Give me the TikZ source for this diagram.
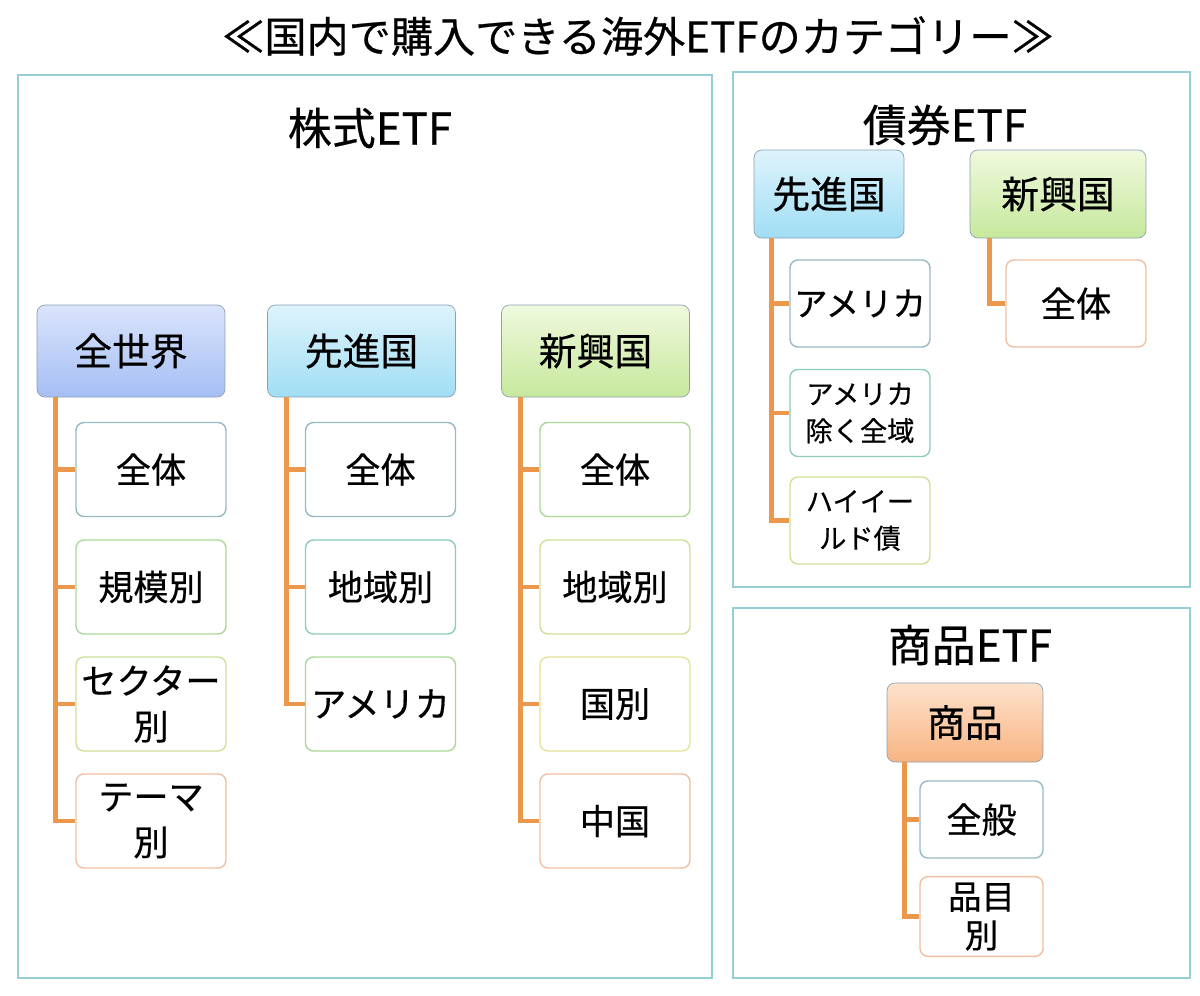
\documentclass[tikz,border=0pt]{standalone}
\usepackage{fontspec}
\setmainfont{Noto Sans CJK JP}[FakeBold=0.5]
\usetikzlibrary{positioning}
\definecolor{frame}{RGB}{150,206,214}
\definecolor{pedge}{RGB}{140,160,180}
\definecolor{spinec}{RGB}{236,152,76}
\definecolor{lblue}{RGB}{150,186,196}
\definecolor{lteal}{RGB}{140,204,184}
\definecolor{lgreen}{RGB}{170,216,150}
\definecolor{lyg}{RGB}{205,224,150}
\definecolor{lyellow}{RGB}{228,226,150}
\definecolor{lorange}{RGB}{240,190,160}

\begin{document}
\begin{tikzpicture}[
  x=0.02cm, y=-0.02cm,
  panel/.style={draw=frame, line width=1.2pt},
  hd/.style={font=\fontsize{25}{28}\selectfont},
  parent/.style={draw=pedge, rounded corners=4.5pt, minimum width=3.76cm, minimum height=1.84cm, font=\fontsize{21.5}{24}\selectfont},
  leaf/.style={draw=#1, fill=white, line width=0.8pt, rounded corners=4.5pt, inner xsep=1pt, minimum width=3cm, minimum height=1.88cm, align=center, font=\fontsize{20}{26}\selectfont},
  spine/.style={draw=spinec, line width=2.8pt},
  world/.style={parent, top color={rgb,255:red,218;green,228;blue,252}, bottom color={rgb,255:red,165;green,190;blue,244}},
  devd/.style={parent, top color={rgb,255:red,222;green,243;blue,252}, bottom color={rgb,255:red,160;green,222;blue,244}},
  emrg/.style={parent, top color={rgb,255:red,240;green,249;blue,222}, bottom color={rgb,255:red,198;green,232;blue,156}},
  cmdy/.style={parent, top color={rgb,255:red,253;green,226;blue,204}, bottom color={rgb,255:red,248;green,180;blue,130}}
]
\useasboundingbox (0,0) rectangle (1200,995);

\node[font=\fontsize{24}{28}\selectfont] (ttl) at (638,36) {≪国内で購入できる海外ETFのカテゴリー≫};

\draw[panel] (18,75) rectangle (712,978);
\draw[panel] (733,72) rectangle (1190,587);
\draw[panel] (733,608) rectangle (1190,978);

\node[hd] (stk) at (370,128) {株式ETF};
\node[hd] (bnd) at (945,125) {債券ETF};
\node[hd] (com) at (970,645) {商品ETF};

\node[world] (w0) at (131,351) {全世界};
\node[devd] (a0) at (361.5,351) {先進国};
\node[emrg] (e0) at (595.5,351) {新興国};

\node[leaf=lblue] (w1) at (151,469.5) {全体};
\node[leaf=lgreen] (w2) at (151,587) {規模別};
\node[leaf=lyg] (w3) at (151,704) {セクター\\別};
\node[leaf=lorange] (w4) at (151,821) {テーマ\\別};

\node[leaf=lblue] (a1) at (380.5,469.5) {全体};
\node[leaf=lteal] (a2) at (380.5,587) {地域別};
\node[leaf=lgreen] (a3) at (380.5,704) {アメリカ};

\node[leaf=lgreen] (e1) at (615,469.5) {全体};
\node[leaf=lyg] (e2) at (615,587) {地域別};
\node[leaf=lyellow] (e3) at (615,704) {国別};
\node[leaf=lorange] (e4) at (615,821) {中国};

\node[devd, minimum width=3cm, minimum height=1.76cm] (b0) at (829,194) {先進国};
\node[emrg, minimum width=3.52cm, minimum height=1.76cm] (n0) at (1058,194) {新興国};

\node[leaf=lblue, minimum width=2.8cm, minimum height=1.74cm, font=\fontsize{19}{26}\selectfont] (b1) at (860,303.5) {アメリカ};
\node[leaf=lteal, minimum width=2.8cm, minimum height=1.74cm, font=\fontsize{15.5}{21}\selectfont] (b2) at (860,413) {アメリカ\\除く全域};
\node[leaf=lyg, minimum width=2.8cm, minimum height=1.74cm, font=\fontsize{15.5}{21}\selectfont] (b3) at (860,520.5) {ハイイー\\ルド債};
\node[leaf=lorange, minimum width=2.8cm, minimum height=1.74cm] (n1) at (1076,303.5) {全体};

\node[cmdy, minimum width=3.12cm, minimum height=1.58cm] (c0) at (965,722.5) {商品};
\node[leaf=lblue, minimum width=2.46cm, minimum height=1.54cm] (c1) at (981.5,819.5) {全般};
\node[leaf=lorange, minimum width=2.46cm, minimum height=1.54cm, font=\fontsize{19}{22}\selectfont] (c2) at (981.5,916.5) {品目\\別};

\coordinate (ws) at ([xshift=0.38cm]w0.south west);
\coordinate (as) at ([xshift=0.38cm]a0.south west);
\coordinate (es) at ([xshift=0.38cm]e0.south west);
\coordinate (bs) at ([xshift=0.36cm]b0.south west);
\coordinate (ns) at ([xshift=0.40cm]n0.south west);
\coordinate (cs) at ([xshift=0.36cm]c0.south west);

\foreach \i in {1,...,4} \draw[spine] (ws) |- (w\i.west);
\foreach \i in {1,...,3} \draw[spine] (as) |- (a\i.west);
\foreach \i in {1,...,4} \draw[spine] (es) |- (e\i.west);
\foreach \i in {1,...,3} \draw[spine] (bs) |- (b\i.west);
\draw[spine] (ns) |- (n1.west);
\foreach \i in {1,2} \draw[spine] (cs) |- (c\i.west);
\end{tikzpicture}
\end{document}
